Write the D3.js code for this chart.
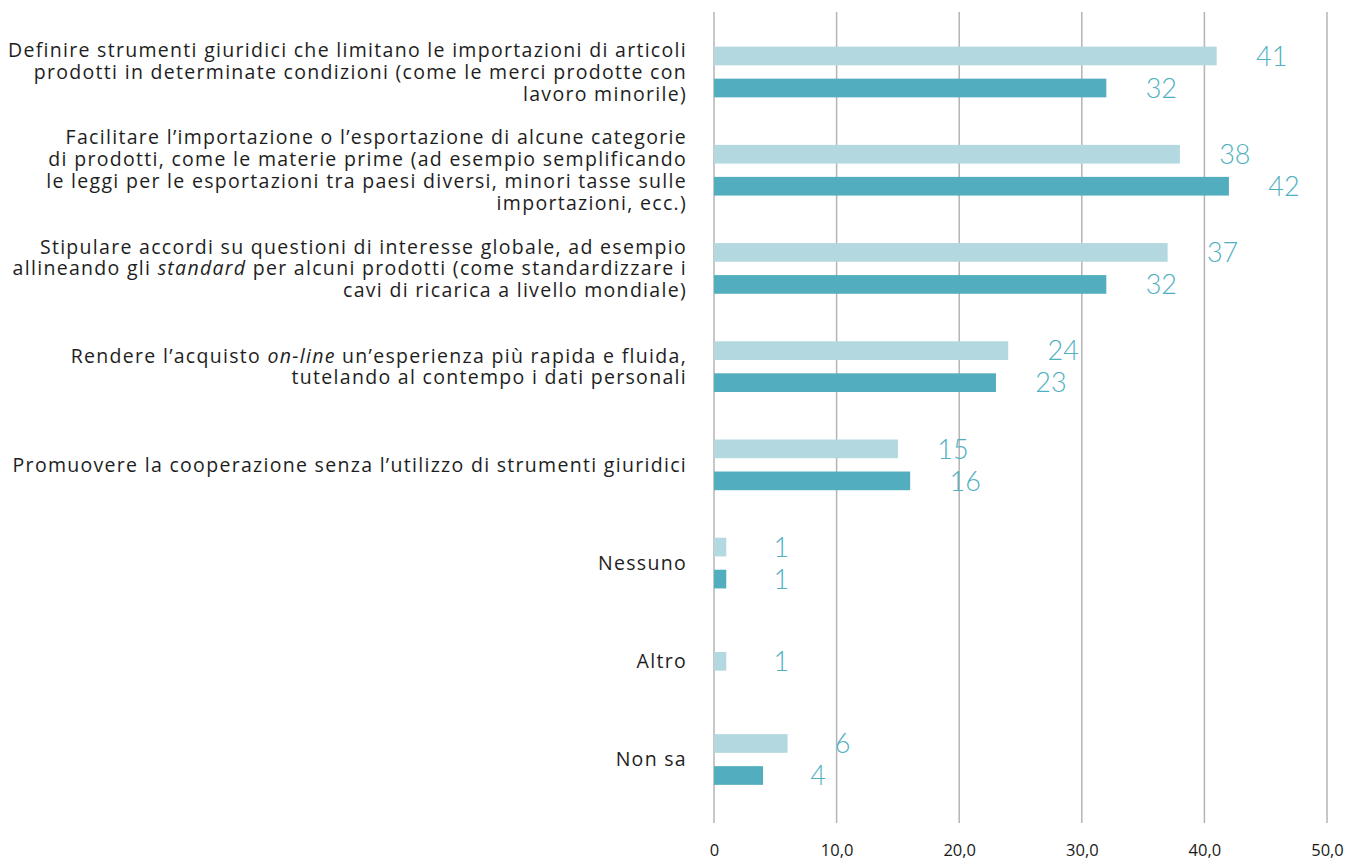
<!DOCTYPE html>
<html>
<head>
<meta charset="utf-8">
<script src="https://cdn.jsdelivr.net/npm/d3@7"></script>
<style>
  html, body { margin: 0; padding: 0; background: #fff; }
  svg { display: block; }
  .cat { font-family: "Open Sans", "Noto Sans", sans-serif; font-size: 19.5px; letter-spacing: 1.3px; fill: #1e1e1e; }
  .val { font-family: Lato, "Open Sans", sans-serif; font-weight: 300; font-size: 27px; fill: #4fb0c1; }
  .tick-label { font-family: "Open Sans", sans-serif; font-size: 16.5px; fill: #1a1a1a; }
</style>
</head>
<body>
<svg id="chart" width="1346" height="866"></svg>
<script>
// Category labels, one entry per line; segments wrapped in *...* are set in italics
const categories = [
  ["Definire strumenti giuridici che limitano le importazioni di articoli",
   "prodotti in determinate condizioni (come le merci prodotte con",
   "lavoro minorile)"],
  ["Facilitare l’importazione o l’esportazione di alcune categorie",
   "di prodotti, come le materie prime (ad esempio semplificando",
   "le leggi per le esportazioni tra paesi diversi, minori tasse sulle",
   "importazioni, ecc.)"],
  ["Stipulare accordi su questioni di interesse globale, ad esempio",
   "allineando gli *standard* per alcuni prodotti (come standardizzare i",
   "cavi di ricarica a livello mondiale)"],
  ["Rendere l’acquisto *on-line* un’esperienza più rapida e fluida,",
   "tutelando al contempo i dati personali"],
  ["Promuovere la cooperazione senza l’utilizzo di strumenti giuridici"],
  ["Nessuno"],
  ["Altro"],
  ["Non sa"]
];

// Two survey series (percent); null = no answer recorded
const seriesLight = [41, 38, 37, 24, 15, 1, 1, 6];
const seriesDark  = [32, 42, 32, 23, 16, 1, null, 4];

const tickValues = [0, 10, 20, 30, 40, 50];

const seriesNames = ["light", "dark"];
const seriesColors = { light: "#b3d8e0", dark: "#52aebe" };

const svg = d3.select("#chart");

const x = d3.scaleLinear().domain([0, 50]).range([714, 1327]);
const catIndex = categories.map((_, i) => i);
const y = d3.scalePoint().domain(catIndex).range([72, 759.5]);

const groupHalf = 25.35;
const gridTop = 12, gridBottom = 823;

// vertical gridlines
svg.append("g")
  .selectAll("line")
  .data(tickValues)
  .join("line")
  .attr("x1", d => x(d)).attr("x2", d => x(d))
  .attr("y1", gridTop).attr("y2", gridBottom)
  .attr("stroke", "#b4b4b4")
  .attr("stroke-width", 1.5);

// tick labels with Italian decimal comma
const itFormat = d3.formatLocale({ decimal: ",", thousands: ".", grouping: [3], currency: ["€", ""] }).format(".1f");
const xAxis = d3.axisBottom(x)
  .tickValues(tickValues)
  .tickSize(0)
  .tickPadding(0)
  .tickFormat(d => d === 0 ? "0" : itFormat(d));
const axisG = svg.append("g")
  .attr("transform", `translate(0, 850)`)
  .call(xAxis);
axisG.select(".domain").remove();
axisG.selectAll("text")
  .attr("class", "tick-label")
  .attr("fill", null)
  .attr("font-family", null)
  .attr("font-size", null)
  .attr("dy", "0.35em");

// bars + value labels
const rows = catIndex.map(i => {
  const present = seriesNames.filter(s => (s === "light" ? seriesLight[i] : seriesDark[i]) != null);
  const sub = d3.scaleBand()
    .domain(present)
    .range([y(i) - groupHalf, y(i) + groupHalf])
    .paddingInner(0.416);
  if (present.length === 1) {
    // single bar: keep the same thickness, centred on the category
    const bw = 18.7;
    sub.range([y(i) - bw / 2, y(i) + bw / 2]).paddingInner(0);
  }
  return present.map(s => ({
    cat: i,
    series: s,
    value: s === "light" ? seriesLight[i] : seriesDark[i],
    y0: sub(s),
    h: sub.bandwidth()
  }));
}).flat();

svg.append("g")
  .selectAll("rect")
  .data(rows)
  .join("rect")
  .attr("x", x(0))
  .attr("y", d => d.y0)
  .attr("width", d => x(d.value) - x(0))
  .attr("height", d => d.h)
  .attr("fill", d => seriesColors[d.series]);

svg.append("g")
  .selectAll("text")
  .data(rows)
  .join("text")
  .attr("class", "val")
  .attr("x", d => x(d.value) + 55)
  .attr("y", d => d.y0 + d.h / 2)
  .attr("dy", "0.36em")
  .attr("text-anchor", "middle")
  .text(d => d.value);

// category labels, right-aligned, multi-line, with italic segments
const lineH = 21.7;
const labelX = 687;
const labelG = svg.append("g");
categories.forEach((lines, i) => {
  const t = labelG.append("text")
    .attr("class", "cat")
    .attr("text-anchor", "end");
  const n = lines.length;
  lines.forEach((line, k) => {
    const yLine = y(i) + (k - (n - 1) / 2) * lineH;
    const parts = line.split("*");
    parts.forEach((p, j) => {
      if (!p.length) return;
      const ts = t.append("tspan").text(p);
      if (j === 0) ts.attr("x", labelX).attr("y", yLine).attr("dy", "0.35em");
      if (j % 2 === 1) ts.attr("font-style", "italic");
    });
  });
});
</script>
</body>
</html>
